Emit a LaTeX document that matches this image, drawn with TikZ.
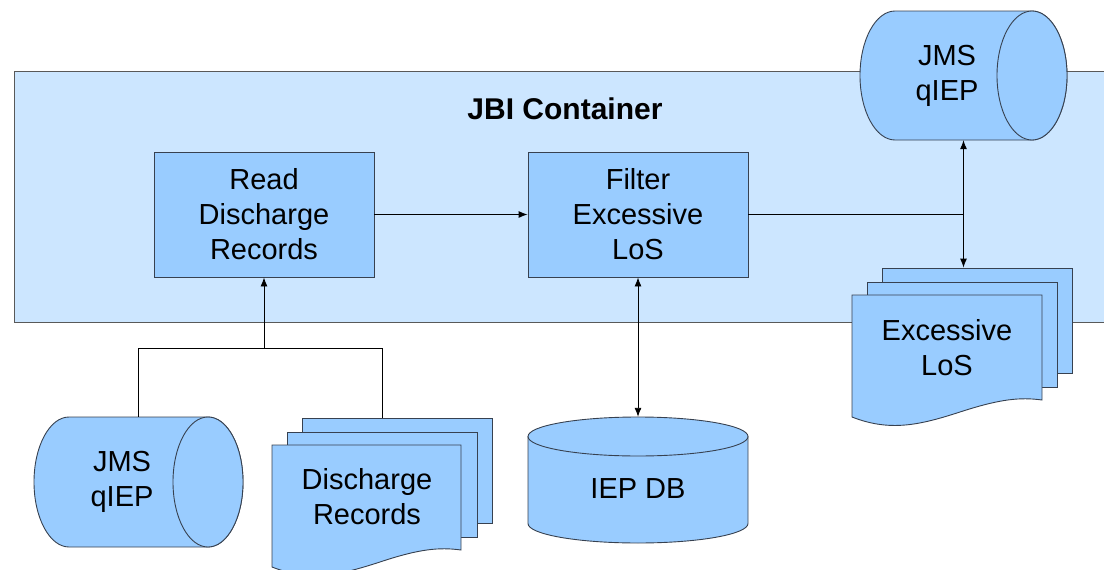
\documentclass[tikz,border=0pt]{standalone}
\usepackage{fontspec}
\setmainfont{Liberation Sans}
\usetikzlibrary{arrows.meta}

\definecolor{boxblue}{RGB}{153,204,255}
\definecolor{jbiblue}{RGB}{204,230,255}
\definecolor{edgegray}{RGB}{55,65,80}

\begin{document}
\begin{tikzpicture}[x=1pt, y=-1pt,
        every node/.style={font=\fontsize{29}{35}\selectfont, align=center, inner sep=0pt},
        proc/.style={draw=edgegray, fill=boxblue, line width=0.9pt, minimum width=220, minimum height=125},
        frame/.style={minimum width=#1},
        shell/.style={draw=edgegray, fill=boxblue, line width=0.9pt},
        sheet/.style={shell, minimum width=190, minimum height=105},
        link/.style={line width=0.9pt, -{Latex[length=9pt,width=7pt]}},
        both/.style={line width=0.9pt, {Latex[length=9pt,width=7pt]}-{Latex[length=9pt,width=7pt]}}]
    \clip (0,0) rectangle (1104,570);

    % container
    \node[draw=gray!70!black, fill=jbiblue, line width=0.9pt, minimum width=1110, minimum height=251, anchor=north west] (jbi) at (14,71) {};
    \node[font=\fontsize{30}{35}\selectfont\bfseries] (title) at (565,109) {JBI Container};

    % processing steps
    \node[proc] (read) at (264,214.5) {Read\\Discharge\\Records};
    \node[proc] (filter) at (638,214.5) {Filter\\Excessive\\LoS};

    % outgoing queue
    \node[frame=207, minimum height=129] (jmsout) at (963.5,75.5) {};
    \draw[shell] (1032,11) -- (895,11) arc[start angle=-90, end angle=-270, x radius=35, y radius=64.5]
        -- (1032,140) arc[start angle=90, end angle=-90, x radius=35, y radius=64.5] -- cycle;
    \draw[shell] (1032,75.5) ellipse [x radius=35, y radius=64.5];
    \node (jmsouttext) at (947,75.5) {JMS\\qIEP};

    % incoming queue
    \node[frame=209, minimum height=130] (jmsin) at (138.5,482) {};
    \draw[shell] (208,417) -- (69,417) arc[start angle=-90, end angle=-270, x radius=35, y radius=65]
        -- (208,547) arc[start angle=90, end angle=-90, x radius=35, y radius=65] -- cycle;
    \draw[shell] (208,482) ellipse [x radius=35, y radius=65];
    \node (jmsintext) at (122,482) {JMS\\qIEP};

    % database
    \node[frame=220, minimum height=126] (iepdb) at (638,480) {};
    \draw[shell] (528,436.5) -- (528,523.5) arc[start angle=180, end angle=0, x radius=110, y radius=19.5]
        -- (748,436.5) -- cycle;
    \draw[shell] (638,436.5) ellipse [x radius=110, y radius=19.5];
    \node (iepdbtext) at (638,489) {IEP DB};

    % excessive LoS documents
    \node[sheet] (exc3) at (977,320.5) {};
    \node[sheet] (exc2) at (962.5,334.5) {};
    \draw[shell] (852,295) -- (1042,295) -- (1042,400)
        .. controls (1020,397) and (1000,399) .. (960,412)
        .. controls (920,425) and (890,432) .. (852,417) -- cycle;
    \node (exc) at (947,348) {Excessive\\LoS};

    % discharge record documents
    \node[sheet] (dis3) at (397,470.5) {};
    \node[sheet] (dis2) at (382,484.5) {};
    \draw[shell] (272,445) -- (461,445) -- (461,550)
        .. controls (439,547) and (419,549) .. (380,562)
        .. controls (340,575) and (310,582) .. (272,567) -- cycle;
    \node (dis) at (367,497) {Discharge\\Records};

    % connectors
    \coordinate (fork) at (963.5,214.5);
    \coordinate (merge) at (264,348);
    \coordinate (distop) at (382,418);
    \draw[link] (read) -- (filter);
    \draw[line width=0.9pt] (filter.east) -- (fork);
    \draw[link] (fork) -- (jmsout.south);
    \draw[link] (fork) -- (fork |- exc3.north);
    \draw[both] (filter.south) -- (iepdb.north);
    \draw[link] (merge) -- (read.south);
    \draw[line width=0.9pt] (jmsin.north) |- (merge);
    \draw[line width=0.9pt] (distop) |- (merge);
\end{tikzpicture}
\end{document}
